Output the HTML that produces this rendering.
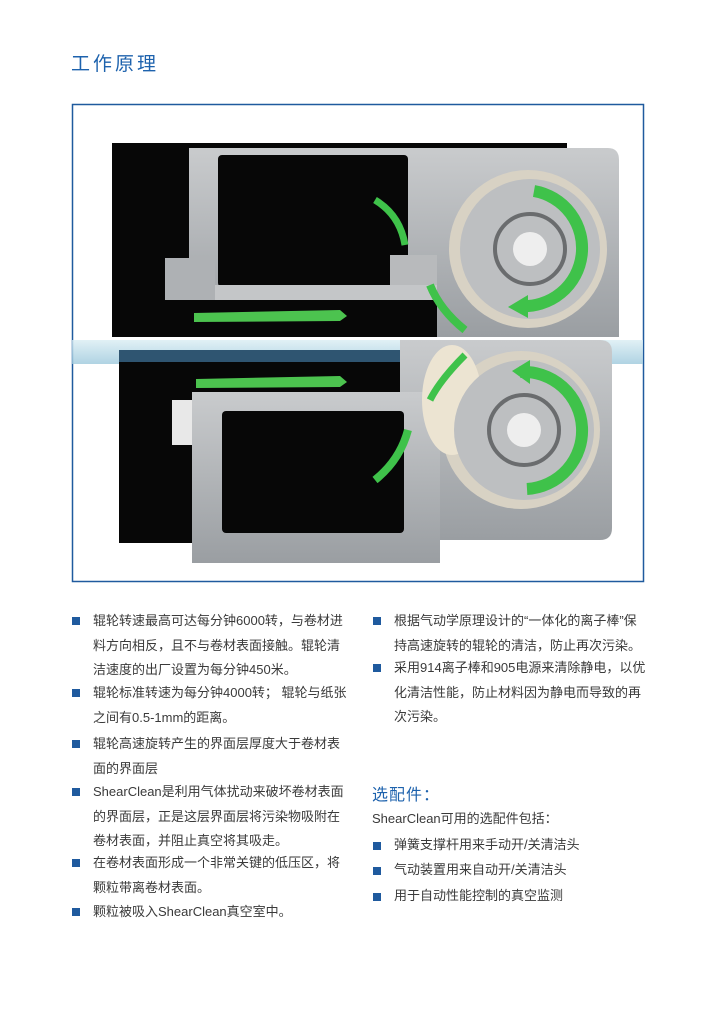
<!DOCTYPE html>
<html><head><meta charset="utf-8"><style>
body{margin:0;width:722px;height:1024px;background:#fff;position:relative;overflow:hidden;font-family:"Liberation Sans","Noto Sans CJK SC",sans-serif;color:#333}
.t{position:absolute;font-size:13px;line-height:24.5px;color:#3a3a3a}
.b{position:absolute;width:8px;height:8px;background:#1f5a9e}
h1{position:absolute;left:71px;top:49px;margin:0;font-weight:normal;font-size:19px;letter-spacing:3px;color:#1d62ad}
</style></head><body>
<h1>工作原理</h1>
<svg style="position:absolute;left:0;top:0" width="722" height="1024">
<defs>
<linearGradient id="s" x1="0" y1="0" x2="0" y2="1"><stop offset="0" stop-color="#c9cbcd"/><stop offset="1" stop-color="#9a9ea2"/></linearGradient>
<linearGradient id="bl" x1="0" y1="0" x2="0" y2="1"><stop offset="0" stop-color="#d9edf3"/><stop offset="1" stop-color="#9cc8dc"/></linearGradient>
</defs>
<rect x="72.5" y="104.5" width="571" height="477" fill="#fff" stroke="#1f5a9e" stroke-width="1.5"/>
<!-- top -->
<rect x="112" y="143" width="455" height="194" fill="#070707"/>
<path d="M189 148 H608 Q619 148 619 160 V337 H437 V300 H189 Z" fill="url(#s)"/>
<rect x="218" y="155" width="190" height="132" rx="4" fill="#070707"/>
<rect x="165" y="258" width="50" height="42" fill="#aeb1b4"/>
<rect x="215" y="285" width="222" height="15" fill="#c4c6c8"/>
<rect x="390" y="255" width="47" height="30" fill="#b8babc"/>
<polygon points="194,313 340,310 347,316 340,321 194,322" fill="#4cc34f"/>
<circle cx="528" cy="249" r="79" fill="#d8d2c4"/>
<circle cx="530" cy="249" r="70" fill="#bdbfc1"/>
<circle cx="530" cy="249" r="35" fill="none" stroke="#6a6c6e" stroke-width="4"/>
<circle cx="530" cy="249" r="17" fill="#eeeeee"/>
<path d="M534 191 A58 58 0 0 1 520 306" fill="none" stroke="#3fc24a" stroke-width="12"/>
<polygon points="508,307 528,295 528,318" fill="#3fc24a"/>
<path d="M375 200 Q400 215 405 245" fill="none" stroke="#3fc24a" stroke-width="7"/>
<path d="M430 285 Q440 310 465 330" fill="none" stroke="#3fc24a" stroke-width="8"/>
<!-- band -->
<rect x="72" y="340" width="571" height="24" fill="url(#bl)" opacity="0.8"/>
<!-- bottom -->
<rect x="119" y="352" width="320" height="191" fill="#070707"/>
<rect x="119" y="350" width="290" height="12" fill="#2f5571"/>
<path d="M400 340 H600 Q612 340 612 352 V528 Q612 540 600 540 H400 Z" fill="url(#s)"/>
<polygon points="196,379 340,376 347,382 340,387 196,388" fill="#4cc34f"/>
<rect x="172" y="400" width="40" height="45" fill="#e8e8e8"/>
<rect x="192" y="392" width="248" height="171" fill="url(#s)"/>
<rect x="222" y="411" width="182" height="122" rx="4" fill="#070707"/>
<circle cx="521" cy="430" r="79" fill="#d8d2c4"/>
<ellipse cx="452" cy="400" rx="30" ry="55" fill="#ece4d2"/>
<circle cx="524" cy="430" r="70" fill="#bdbfc1"/>
<circle cx="524" cy="430" r="35" fill="none" stroke="#6a6c6e" stroke-width="4"/>
<circle cx="524" cy="430" r="17" fill="#eeeeee"/>
<path d="M520 372 A58 58 0 0 1 527 489" fill="none" stroke="#3fc24a" stroke-width="12"/>
<polygon points="512,371 530,360 530,384" fill="#3fc24a"/>
<path d="M465 355 Q440 380 430 400" fill="none" stroke="#3fc24a" stroke-width="7"/>
<path d="M408 430 Q400 460 375 480" fill="none" stroke="#3fc24a" stroke-width="8"/>
</svg>

<div class="b" style="left:72px;top:617px"></div>
<div class="t" style="left:93px;top:609px;width:255px">辊轮转速最高可达每分钟6000转，与卷材进料方向相反，且不与卷材表面接触。辊轮清洁速度的出厂设置为每分钟450米。</div>
<div class="b" style="left:72px;top:689px"></div>
<div class="t" style="left:93px;top:681px;width:260px">辊轮标准转速为每分钟4000转； 辊轮与纸张之间有0.5-1mm的距离。</div>
<div class="b" style="left:72px;top:740px"></div>
<div class="t" style="left:93px;top:732px;width:255px">辊轮高速旋转产生的界面层厚度大于卷材表面的界面层</div>
<div class="b" style="left:72px;top:788px"></div>
<div class="t" style="left:93px;top:780px;width:257px">ShearClean是利用气体扰动来破坏卷材表面的界面层，正是这层界面层将污染物吸附在卷材表面，并阻止真空将其吸走。</div>
<div class="b" style="left:72px;top:859px"></div>
<div class="t" style="left:93px;top:851px;width:257px">在卷材表面形成一个非常关键的低压区，将颗粒带离卷材表面。</div>
<div class="b" style="left:72px;top:908px"></div>
<div class="t" style="left:93px;top:900px;width:257px">颗粒被吸入ShearClean真空室中。</div>

<div class="b" style="left:373px;top:617px"></div>
<div class="t" style="left:394px;top:609px;width:255px">根据气动学原理设计的“一体化的离子棒”保持高速旋转的辊轮的清洁，防止再次污染。</div>
<div class="b" style="left:373px;top:664px"></div>
<div class="t" style="left:394px;top:656px;width:255px">采用914离子棒和905电源来清除静电，以优化清洁性能，防止材料因为静电而导致的再次污染。</div>
<div style="position:absolute;left:372px;top:781px;font-size:16px;color:#1d62ad;letter-spacing:1px">选配件：</div>
<div class="t" style="left:372px;top:807px">ShearClean可用的选配件包括：</div>
<div class="b" style="left:373px;top:842px"></div>
<div class="t" style="left:394px;top:833px">弹簧支撑杆用来手动开/关清洁头</div>
<div class="b" style="left:373px;top:867px"></div>
<div class="t" style="left:394px;top:858px">气动装置用来自动开/关清洁头</div>
<div class="b" style="left:373px;top:893px"></div>
<div class="t" style="left:394px;top:884px">用于自动性能控制的真空监测</div>
</body></html>
